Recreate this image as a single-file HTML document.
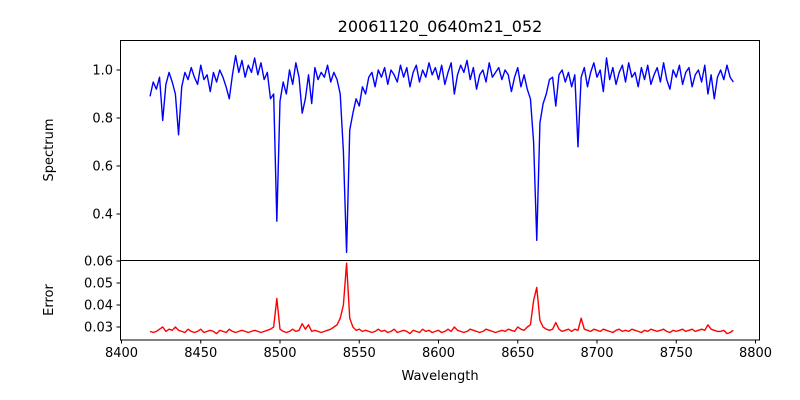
<!DOCTYPE html>
<html><head><meta charset="utf-8"><style>
body{margin:0;background:#fff}
svg{display:block;font-family:"DejaVu Sans","Liberation Sans",sans-serif}
</style></head><body>
<svg id="c" width="800" height="400"></svg>
<script>
const wlStart = 8418, wlStep = 2;
const spectrum = [
.89,.95,.92,.97,.79,.94,.99,.95,.90,.73,
.93,.99,.96,1.01,.97,.94,1.02,.96,.98,.91,
.99,.95,1.00,.97,.93,.88,.98,1.06,.99,1.04,
.97,1.02,.99,1.05,.98,1.03,.96,.99,.88,.90,
.37,.87,.95,.90,1.00,.94,1.03,.97,.82,.88,
.98,.86,1.01,.96,.99,.97,1.02,.95,.99,.96,
.90,.66,.24,.75,.82,.88,.85,.93,.90,.97,
.99,.93,1.00,.97,1.01,.94,1.00,.98,.95,1.02,
.97,1.01,.93,.99,1.02,.95,1.00,.97,1.03,.98,
1.01,.96,1.02,.94,.99,1.03,.90,.98,1.02,.99,
1.04,.96,1.01,.92,.98,1.00,.95,1.03,.97,.99,
1.01,.96,1.00,.98,.91,.97,1.01,.93,.98,.92,
.88,.70,.29,.78,.86,.90,.96,.97,.85,.98,
1.00,.95,.99,.93,.98,.68,.97,1.01,.93,.99,
1.03,.97,1.00,.91,1.05,.96,1.01,.94,.99,1.02,
.95,1.03,.97,.99,.93,1.01,.96,1.02,.94,.98,
1.01,.95,1.03,.96,.92,1.00,.97,1.02,.94,.99,
1.01,.93,.98,1.00,.95,1.02,.90,.98,.88,.97,
1.00,.96,1.02,.97,.95];
const errors = [
.028,.0275,.028,.029,.030,.028,.029,.0285,.030,.0285,
.028,.0275,.029,.028,.0275,.028,.029,.0275,.028,.0285,
.028,.027,.0285,.028,.0275,.029,.028,.0275,.028,.0285,
.028,.0275,.028,.0285,.028,.0275,.028,.0285,.029,.030,
.043,.029,.028,.0275,.028,.029,.028,.0285,.0315,.029,
.031,.028,.0285,.028,.0275,.028,.0285,.029,.030,.031,
.034,.040,.059,.034,.030,.0285,.029,.028,.0285,.028,
.0275,.028,.029,.028,.0285,.0275,.028,.029,.0275,.028,
.0285,.028,.027,.0285,.028,.0275,.029,.028,.0285,.0275,
.028,.0285,.0275,.028,.029,.028,.030,.0285,.028,.0275,
.028,.029,.0285,.028,.0275,.028,.029,.0285,.028,.0275,
.028,.0285,.028,.029,.0285,.028,.030,.029,.0285,.030,
.031,.042,.048,.033,.030,.029,.0285,.029,.032,.029,
.028,.0285,.029,.028,.029,.0285,.034,.029,.0285,.028,
.029,.0285,.028,.029,.0285,.028,.0275,.0285,.029,.028,
.0285,.028,.029,.0285,.028,.0275,.0285,.028,.029,.0285,
.028,.0285,.029,.028,.0275,.0285,.028,.0285,.029,.028,
.0285,.029,.028,.0285,.029,.0285,.031,.029,.0285,.028,
.028,.0285,.027,.0275,.0285];
const xTicks = [8400,8450,8500,8550,8600,8650,8700,8750,8800];
const specTicks = [0.4,0.6,0.8,1.0];
const errTicks = [0.03,0.04,0.05,0.06];

const NS="http://www.w3.org/2000/svg", svg=document.getElementById('c');
const X0=121.5, XPX=1.585;
const xs = w => X0 + (w-8400)*XPX;
const ys1 = v => 70 - (v-1.0)*240;
const ys2 = v => 327 - (v-0.03)*2200;
function mk(tag, attrs, txt){const e=document.createElementNS(NS,tag);for(const k in attrs)e.setAttribute(k,attrs[k]);if(txt!==undefined)e.textContent=txt;svg.appendChild(e);return e;}

function line(vals, yf, color, name){
  let d='';
  vals.forEach((v,i)=>{d+=(i?'L':'M')+xs(wlStart+i*wlStep).toFixed(2)+','+yf(v).toFixed(2);});
  const p=mk('path',{d:d,fill:'none',stroke:color,'stroke-width':1.4,'stroke-linejoin':'round'});
  
  
}
line(spectrum, ys1, '#0000ff', 'spectrum-line');
line(errors, ys2, '#ff0000', 'error-line');

let r=mk('rect',{x:120.5,y:40.5,width:639,height:220,fill:'none',stroke:'#000','stroke-width':1});


r=mk('rect',{x:120.5,y:260.5,width:639,height:79.5,fill:'none',stroke:'#000','stroke-width':1});



xTicks.forEach(t=>{
  const x=xs(t);
  let l=mk('line',{x1:x,x2:x,y1:340,y2:343.5,stroke:'#000'});
  
  
  let tx=mk('text',{x:x,y:357,'font-size':13,'text-anchor':'middle'},t);
  
  
});
specTicks.forEach(t=>{
  const y=ys1(t);
  let l=mk('line',{x1:116.5,x2:120.5,y1:y,y2:y,stroke:'#000'});
  
  
  let tx=mk('text',{x:113,y:y+4.5,'font-size':13,'text-anchor':'end'},t.toFixed(1));
  
  
});
errTicks.forEach(t=>{
  const y=ys2(t);
  let l=mk('line',{x1:116.5,x2:120.5,y1:y,y2:y,stroke:'#000'});
  
  
  let tx=mk('text',{x:113,y:y+4.5,'font-size':13,'text-anchor':'end'},t.toFixed(2));
  
  
});
let t=mk('text',{x:440,y:32,'font-size':16,'text-anchor':'middle'},'20061120_0640m21_052');


t=mk('text',{x:440,y:380,'font-size':13,'text-anchor':'middle'},'Wavelength');


t=mk('text',{x:0,y:0,'font-size':13,'text-anchor':'middle',transform:'translate(53,150) rotate(-90)'},'Spectrum');


t=mk('text',{x:0,y:0,'font-size':13,'text-anchor':'middle',transform:'translate(53,300) rotate(-90)'},'Error');


</script>
</body></html>
